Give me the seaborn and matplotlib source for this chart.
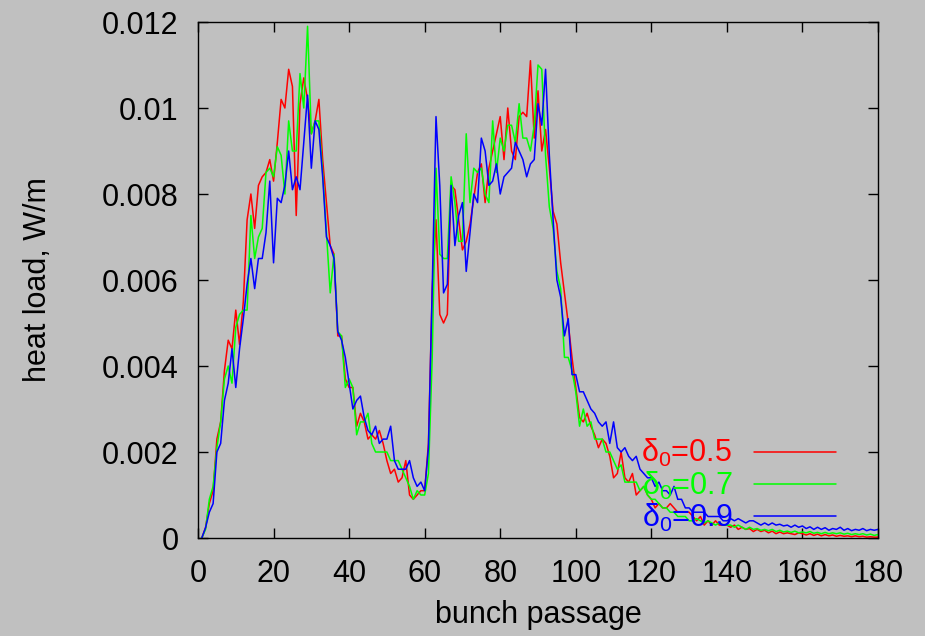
import numpy as np
import pandas as pd
import matplotlib
matplotlib.use("Agg")
import matplotlib.pyplot as plt
import seaborn as sns
from matplotlib.ticker import MultipleLocator, FuncFormatter

bunch = list(range(1, 181))

red_05 = [0, .00024, .0008, .0011, .0023, .0027, .0039, .0046, .0044, .0053,
          .0045, .0055, .0074, .0080, .0072, .0082, .0084, .0085, .0088, .0083,
          .0092, .0102, .0100, .0109, .0105, .0075, .0101, .0107, .0102, .0094,
          .0097, .0102, .0088, .0078, .0068, .0066, .0047, .0047, .0037, .0035,
          .0035, .0026, .0029, .0027, .0023, .0024, .0023, .0025, .0022, .0018,
          .0015, .0016, .0013, .0014, .0018, .0010, .0009, .0010, .0011, .0011,
          .0022, .0058, .0074, .0052, .0050, .0052, .0082, .0081, .0074, .0067,
          .0069, .0073, .0079, .0085, .0087, .0078, .0086, .0090, .0094, .0098,
          .0088, .0100, .0090, .0088, .0098, .0099, .0098, .0111, .0093, .0104,
          .0090, .0095, .0086, .0076, .0073, .0064, .0057, .0050, .0042, .0035,
          .0028, .0027, .0029, .0026, .0024, .0021, .0023, .0022, .0019, .0014,
          .0015, .0020, .0014, .0013, .0015, .0010, .0011, .0012, .0010, .0009,
          .0007, .0008, .0007, .0007, .0008, .0007, .0006, .0006, .0006, .0006,
          .0005, .0004, .0005, .0003, .0004, .0003, .0004, .0003, .0003, .0003,
          .00025, .0003, .0002, .00025, .0002, .00022, .00015, .0002, .00015, .00018,
          .00012, .00016, .0001, .00014, .0001, .00012, .0001, .00008, .00012, .0001,
          .00007, .0001, .00006, .00009, .00005, .00008, .00005, .00007, .00004, .00006,
          .00004, .00005, .00003, .00005, .00003, .00004, .00002, .00003, .00002, .00002]

green_07 = [0, .0002, .0009, .0012, .0021, .0027, .0037, .0040, .0036, .0049,
            .0052, .0053, .0053, .0075, .0065, .0070, .0072, .0085, .0086, .0084,
            .0091, .0089, .0080, .0097, .0090, .0090, .0108, .0100, .0119, .0094,
            .0097, .0097, .0085, .0071, .0057, .0066, .0048, .0047, .0035, .0037,
            .0035, .0024, .0027, .0027, .0029, .0022, .0020, .0020, .0020, .0020,
            .0018, .0018, .0018, .0016, .0014, .0012, .0009, .0011, .0010, .0010,
            .0015, .0042, .0086, .0066, .0065, .0065, .0084, .0078, .0069, .0069,
            .0094, .0078, .0086, .0085, .0086, .0080, .0078, .0097, .0085, .0093,
            .0090, .0096, .0096, .0092, .0101, .0093, .0093, .0090, .0096, .0110,
            .0109, .0089, .0077, .0072, .0062, .0058, .0042, .0042, .0039, .0034,
            .0026, .0030, .0026, .0027, .0023, .0023, .0023, .0020, .0020, .0018,
            .0016, .0017, .0013, .0013, .0013, .0013, .0011, .0012, .0010, .0009,
            .0009, .0008, .0007, .0007, .0006, .0006, .0005, .0005, .0005, .0004,
            .0004, .00045, .0004, .00035, .0004, .00035, .0003, .00035, .0003, .0003,
            .0003, .00025, .0003, .00025, .0002, .00025, .0002, .00022, .00018, .0002,
            .00017, .0002, .00015, .00018, .00014, .00016, .00013, .00016, .00012, .00014,
            .00012, .00015, .00011, .00013, .0001, .00013, .0001, .00012, .0001, .00012,
            .00009, .00011, .00008, .0001, .00008, .0001, .00007, .00009, .00006, .00008]

blue_09 = [0, .00024, .0006, .0008, .0020, .0022, .0032, .0036, .0044, .0035,
           .0044, .0051, .0059, .0065, .0058, .0065, .0065, .0071, .0083, .0064,
           .0079, .0078, .0082, .0090, .0081, .0084, .0081, .0092, .0103, .0086,
           .0097, .0095, .0084, .0070, .0068, .0065, .0048, .0046, .0042, .0036,
           .0030, .0032, .0033, .0028, .0025, .0024, .0026, .0022, .0023, .0023,
           .0026, .0018, .0016, .0016, .0016, .0018, .0014, .0012, .0013, .0011,
           .0021, .0058, .0098, .0082, .0057, .0059, .0082, .0068, .0075, .0078,
           .0062, .0071, .0080, .0078, .0093, .0090, .0082, .0083, .0087, .0080,
           .0084, .0085, .0086, .0092, .0090, .0088, .0084, .0087, .0088, .0101,
           .0096, .0109, .0089, .0074, .0060, .0056, .0047, .0051, .0038, .0038,
           .0034, .0034, .0032, .0030, .0029, .0027, .0026, .0027, .0022, .0027,
           .0021, .0020, .0021, .0019, .0018, .0019, .0016, .0015, .0014, .0014,
           .0012, .0013, .0011, .0011, .0010, .0012, .0009, .0009, .0007, .0007,
           .0006, .0006, .0006, .0006, .0005, .0005, .0005, .0005, .0004, .0004,
           .00045, .0004, .00045, .0004, .00035, .0004, .0004, .00035, .0003, .00035,
           .0003, .00035, .0003, .00032, .00028, .0003, .00025, .0003, .00025, .00028,
           .00022, .00026, .0002, .00025, .0002, .00024, .00018, .00022, .0002, .00025,
           .00018, .00022, .00017, .0002, .00018, .00022, .00017, .0002, .00018, .0002]

labels = [r"$\mathregular{\delta_0}$=0.5", r"$\mathregular{\delta_0}$=0.7", r"$\mathregular{\delta_0}$=0.9"]
colors = ["#ff0000", "#00ff00", "#0000ff"]

df = pd.concat([
    pd.DataFrame({"x": bunch, "y": red_05, "s": labels[0]}),
    pd.DataFrame({"x": bunch, "y": green_07, "s": labels[1]}),
    pd.DataFrame({"x": bunch, "y": blue_09, "s": labels[2]}),
])

sns.set_style("ticks")
plt.rcParams["font.family"] = ["Liberation Sans", "DejaVu Sans"]
plt.rcParams["mathtext.fontset"] = "custom"
plt.rcParams["mathtext.rm"] = "Liberation Sans"
plt.rcParams["mathtext.it"] = "Liberation Sans:italic"
plt.rcParams["text.color"] = "black"
plt.rcParams["axes.labelcolor"] = "black"

bg = "#c0c0c0"
fs = 22
fig = plt.figure(figsize=(9.25, 6.36), dpi=100, facecolor=bg)
ax = fig.add_axes([198 / 925, 98 / 636, 680 / 925, 516 / 636])
ax.set_facecolor(bg)

sns.lineplot(data=df, x="x", y="y", hue="s", palette=dict(zip(labels, colors)),
             linewidth=1.1, ax=ax, legend=True, estimator=None, sort=False)

ax.set_xlim(0, 180)
ax.set_ylim(0, 0.012)
ax.xaxis.set_major_locator(MultipleLocator(20))
ax.yaxis.set_major_locator(MultipleLocator(0.002))
ax.yaxis.set_major_formatter(FuncFormatter(lambda v, p: "%g" % round(v, 6)))
ax.tick_params(direction="in", length=7, width=1, top=True, right=True,
               labelsize=fs, colors="black", labelcolor="black")
ax.tick_params(axis="y", pad=14)
ax.tick_params(axis="x", pad=15)
for sp in ax.spines.values():
    sp.set_color("black")
    sp.set_linewidth(1.0)

ax.set_xlabel("bunch passage", fontsize=fs, labelpad=8, color="black")
ax.set_ylabel("heat load, W/m", fontsize=fs, labelpad=35, color="black")

h, l = ax.get_legend_handles_labels()
leg = ax.legend(h, l, loc="lower right", bbox_to_anchor=(0.97, -0.033), frameon=False,
                markerfirst=False, fontsize=fs, labelspacing=0.0, handlelength=2.7,
                handletextpad=0.7, borderpad=0.2)
for t, c in zip(leg.get_texts(), colors):
    t.set_color(c)

fig.savefig("out.png", dpi=100, facecolor=bg)
